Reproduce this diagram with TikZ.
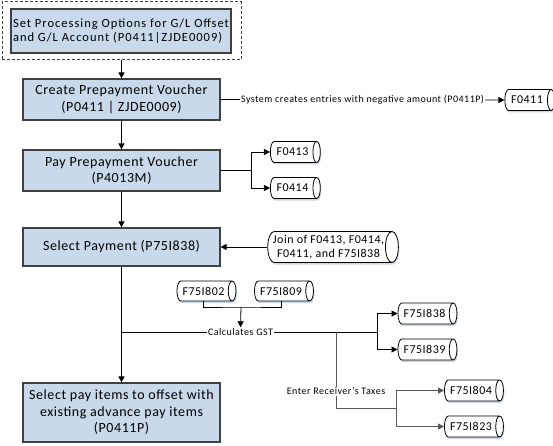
\documentclass[tikz,border=0pt]{standalone}
\usepackage{fontspec}
\setmainfont{Carlito}
\newfontfamily\boxfont[LetterSpace=4]{Carlito}
\newfontfamily\optfont[LetterSpace=8]{Carlito}
\newfontfamily\lblfont[LetterSpace=5]{Carlito}
\usepackage{xcolor}
\definecolor{cBox}{HTML}{CAD8EB}
\definecolor{cEdge}{HTML}{404040}
\definecolor{cShade}{HTML}{C9D6E8}
\definecolor{cGray}{HTML}{595959}
\usepackage{tikz}
\usetikzlibrary{positioning,arrows.meta,shapes.geometric,shadows}
\tikzset{
  node-box/.style={draw=cEdge,line width=1.2pt,fill=cBox,minimum width=197pt,
    align=center,font=\boxfont\fontsize{14}{16.5}\selectfont,inner sep=2pt},
  node-frame/.style={draw=cEdge,line width=1pt,densely dashed,
    minimum width=239pt,minimum height=58pt},
  node-db/.style={cylinder,draw=black,line width=0.8pt,fill=white,aspect=0.75,
    minimum height=50pt,minimum width=21pt,align=center,inner sep=1pt,
    font=\boxfont\fontsize{12}{14}\selectfont,
    drop shadow={shadow xshift=1pt,shadow yshift=-2pt,fill=cShade,opacity=1}},
  lbl/.style={font=\lblfont\fontsize{10}{11}\selectfont,fill=white,inner sep=1pt},
  link/.style={line width=0.8pt,draw=black},
  link-gray/.style={line width=0.8pt,draw=cGray},
  arrow/.style={-{Triangle[length=6pt,width=6pt]},line width=0.8pt,draw=black},
  arrow-gray/.style={-{Triangle[length=6pt,width=6pt]},line width=0.8pt,draw=cGray},
}
\begin{document}
\begin{tikzpicture}[x=1pt,y=-1pt]
  \useasboundingbox (0,0) rectangle (553,446);
  % main column
  \node[node-frame] (optframe) at (121.5,31) {};
  \node[node-box,minimum width=214pt,minimum height=44pt,align=left,
    font=\optfont\fontsize{12.5}{14}\selectfont] (opt) at (121,31)
    {Set Processing Options for G/L Offset\\and G/L Account (P0411|ZJDE0009)};
  \node[node-box,minimum height=41pt] (create) at (121.5,99.5)
    {Create Prepayment Voucher\\(P0411 | ZJDE0009)};
  \node[node-box,minimum height=41pt] (pay) at (121.5,170.5)
    {Pay Prepayment Voucher\\(P4013M)};
  \node[node-box,minimum height=38pt] (select) at (121.5,247)
    {Select Payment (P75I838)};
  \node[node-box,minimum height=59pt] (offset) at (121.5,412.5)
    {Select pay items to offset with\\existing advance pay items\\(P0411P)};
  % tables
  \node[node-db] (f0411) at (527,100) {F0411};
  \node[node-db] (f0413) at (292.5,152) {F0413};
  \node[node-db] (f0414) at (292.5,188) {F0414};
  \node[node-db,minimum height=121pt,minimum width=31pt,aspect=0.5] (join) at (328.5,247)
    {Join of F0413, F0414,\\F0411, and F75I838};
  \node[node-db,minimum height=59pt,minimum width=20pt] (f75i802) at (203.5,291) {F75I802};
  \node[node-db,minimum height=59pt,minimum width=20pt] (f75i809) at (281,291) {F75I809};
  \node[node-db,minimum height=59pt] (f75i838) at (424.5,313.5) {F75I838};
  \node[node-db,minimum height=59pt] (f75i839) at (424.5,349.5) {F75I839};
  \node[node-db,minimum height=59pt] (f75i804) at (471,390.5) {F75I804};
  \node[node-db,minimum height=59pt] (f75i823) at (471,426.5) {F75I823};
  \node[lbl] (gst) at (240.5,332) {Calculates GST};
  \coordinate (payfork) at (251,170.5);
  \coordinate (gststart) at (121.5,332);
  \coordinate (gstjoin) at (241,307);
  \coordinate (gstfork) at (377,332);
  \coordinate (taxdrop) at (336,332);
  \coordinate (taxfork) at (396,408);
  % flow
  \draw[arrow] (optframe) -- (create);
  \draw[arrow] (create) -- (pay);
  \draw[arrow] (pay) -- (select);
  \draw[arrow] (select) -- (offset);
  \draw[arrow] (create.east) -- node[lbl]{System creates entries with negative amount (P0411P)} (f0411.west);
  \draw[link] (pay.east) -- (payfork);
  \draw[arrow] (payfork) |- (f0413.west);
  \draw[arrow] (payfork) |- (f0414.west);
  \draw[arrow] (join.west) -- (select.east);
  \draw[link] (f75i802.south) |- (gstjoin) -| (f75i809.south);
  \draw[arrow] (gstjoin) -- (gst.north);
  \draw[link] (gststart) -- (gst.west);
  \draw[link] (gst.east) -- (gstfork);
  \draw[arrow] (gstfork) |- (f75i838.west);
  \draw[arrow] (gstfork) |- (f75i839.west);
  \draw[link-gray] (taxdrop) -- node[lbl,pos=0.78]{Enter Receiver’s Taxes} (taxdrop |- taxfork) -- (taxfork);
  \draw[arrow-gray] (taxfork) |- (f75i804.west);
  \draw[arrow-gray] (taxfork) |- (f75i823.west);
\end{tikzpicture}
\end{document}
